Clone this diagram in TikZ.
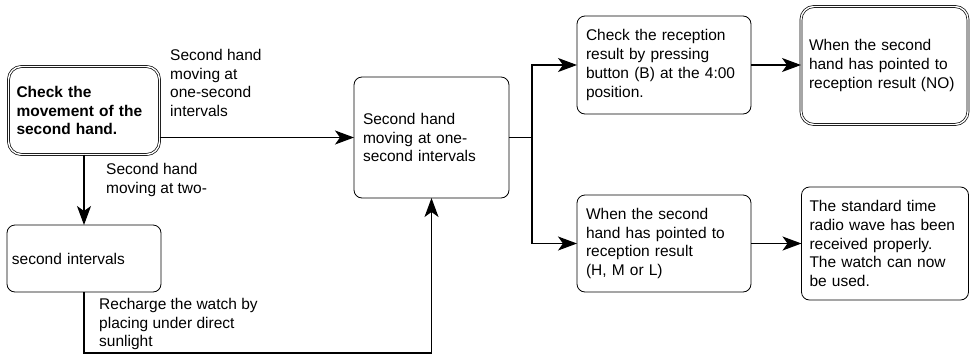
\documentclass[tikz,border=0pt]{standalone}
\usepackage{fontspec}
\setmainfont{Liberation Sans}
\usetikzlibrary{arrows.meta}
\tikzset{
  x=1pt, y=-1pt,
  txt/.style={font=\fontsize{15.5}{18.7}\selectfont},
  box/.style={txt, draw, rounded corners=8pt, line width=0.8pt, inner xsep=8pt, inner ysep=0pt, align=left, outer sep=0pt},
  dbox/.style={box, double, double distance=1.4pt, line width=0.7pt, rounded corners=13pt},
  lbl/.style={txt, align=left, inner sep=0pt, anchor=west},
  arr/.style={line width=1.2pt, -{Stealth[length=19pt, width=14pt, inset=5pt]}}
}
\begin{document}
\begin{tikzpicture}
\useasboundingbox (0,0) rectangle (970,354);
\node[dbox, text width=135pt, minimum height=88pt] (A) at (84,110.5) {\bfseries Check the\\\bfseries movement of the\\\bfseries second hand.};
\node[box, inner xsep=5pt, text width=144pt, minimum height=67pt] (B) at (84,258.5) {second intervals};
\node[box, inner xsep=9pt, text width=137pt, minimum height=121pt] (C) at (431.5,137.5) {Second hand\\moving at one-\\second intervals};
\node[box, inner xsep=9pt, text width=156pt, minimum height=98pt] (D) at (664,65) {Check the reception\\result by pressing\\button (B) at the 4:00\\position.};
\node[box, inner xsep=9pt, text width=156pt, minimum height=97pt] (E) at (664,243.5) {When the second\\hand has pointed to\\reception result\\(H, M or L)};
\node[dbox, inner xsep=8pt, text width=151pt, minimum height=118pt] (F) at (884.5,65.5) {When the second\\hand has pointed to\\reception result (NO)};
\node[box, inner xsep=8pt, text width=151pt, minimum height=113pt] (G) at (885,243.5) {The standard time\\radio wave has been\\received properly.\\The watch can now\\be used.};

\node[lbl] (L1) at (170,83) {Second hand\\moving at\\one-second\\intervals};
\node[lbl] (L2) at (106,180) {Second hand\\moving at two-};
\node[lbl] (L3) at (99,324) {Recharge the watch by\\placing under direct\\sunlight};

\coordinate (low) at (0,353);
\coordinate (split) at (532,137.5);

\draw[arr] (C.west -| A.east) -- (C.west);
\draw[arr] (A.south) -- (B.north);
\draw[arr] (B.south) -- (B.south |- low) -| (C.south);
\draw[arr] (C.east) -- (split) |- (D.west);
\draw[arr] (split) |- (E.west);
\draw[arr] (D.east) -- (D.east -| F.west);
\draw[arr] (E.east) -- (G.west);
\end{tikzpicture}
\end{document}
